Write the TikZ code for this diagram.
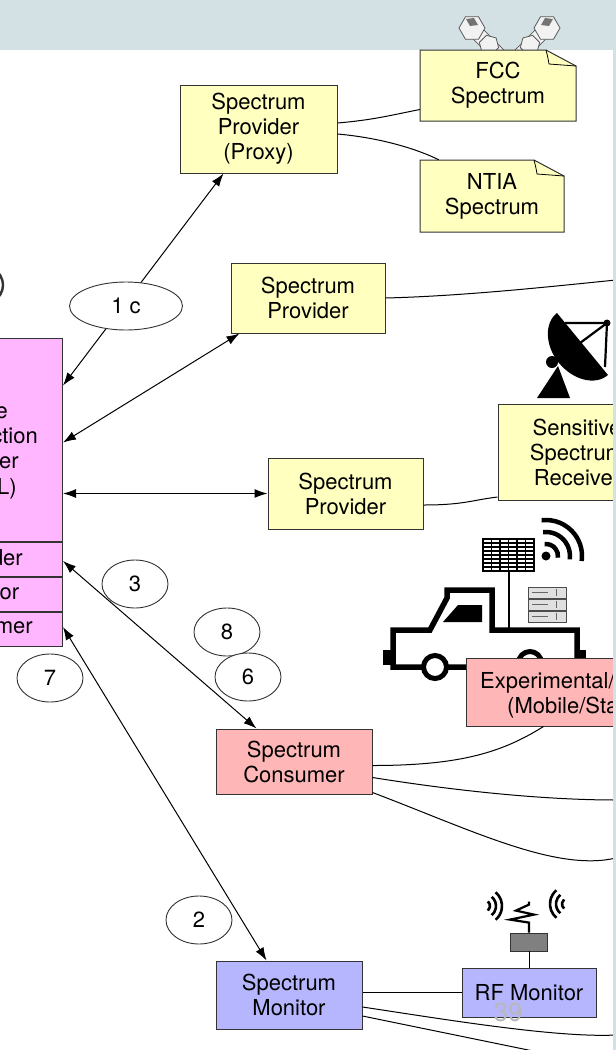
\documentclass[tikz,border=0pt]{standalone}
\usepackage{fontspec}
\setmainfont{TeX Gyre Heros}
\usetikzlibrary{arrows.meta,calc,shapes.geometric}

\definecolor{slideband}{RGB}{211,224,228}
\definecolor{provfill}{RGB}{255,255,192}
\definecolor{consfill}{RGB}{255,182,182}
\definecolor{monfill}{RGB}{182,182,255}
\definecolor{sasfill}{RGB}{255,182,255}

\tikzset{
  lbl/.style={font=\fontsize{22}{25}\selectfont, align=center, inner sep=0pt},
  unit/.style={lbl, draw=black!80, line width=1pt},
  prov/.style={unit, fill=provfill},
  cons/.style={unit, fill=consfill},
  mon/.style={unit, fill=monfill},
  sas/.style={unit, fill=sasfill},
  tag/.style={lbl, ellipse, draw=black!80, line width=0.9pt, fill=white, minimum width=66, minimum height=48},
  link/.style={line width=1pt},
  duplex/.style={link, {Latex[length=13pt,width=9pt]}-{Latex[length=13pt,width=9pt]}},
}

\begin{document}
\begin{tikzpicture}[x=1pt,y=-1pt]
  \useasboundingbox (0,0) rectangle (616,1050);
  \clip (0,0) rectangle (616,1050);
  \fill[slideband] (0,0) rectangle (616,50);

  % wrench icons behind the FCC note
  \foreach \wx/\ws in {472/1,547/-1} {
    \begin{scope}[shift={(\wx,28)}, xscale=\ws]
      \filldraw[fill=black!5, draw=black!65, line width=0.8pt, rotate=-45] (5,-7) rectangle (40,7);
      \filldraw[fill=black!5, draw=black!65, line width=0.8pt] (17,17) +(15:10) -- +(75:10) -- +(135:10) -- +(195:10) -- +(255:10) -- +(315:10) -- cycle;
      \filldraw[fill=black!5, draw=black!65, line width=0.8pt] (0:13) -- (60:13) -- (120:13) -- (180:13) -- (240:13) -- (300:13) -- cycle;
      \fill[black!55] (-6,-9) -- (2,-10) -- (6,-3) -- (-2,-2) -- cycle;
    \end{scope}
  }

  % regulator notes with folded corner
  \foreach \nx/\ny/\nw/\nh in {420/50/156/71, 420/160/144/72} {
    \filldraw[fill=provfill, draw=black!80, line width=1pt] (\nx,\ny) -- ++(\nw-30,0) -- ++(30,16) -- ++(0,\nh-16) -- ++(-\nw,0) -- cycle;
    \draw[line width=0.8pt] (\nx+\nw-30,\ny) .. controls (\nx+\nw-28,\ny+8) .. (\nx+\nw-27,\ny+14) -- (\nx+\nw,\ny+16);
  }
  \node[lbl, minimum width=156, minimum height=71] (fcc) at (498,85.5) {FCC\\Spectrum};
  \node[lbl, minimum width=144, minimum height=72] (ntia) at (492,196) {NTIA\\Spectrum};

  % satellite dish
  \fill (557,313) .. controls (544,323) and (545,346) .. (559,363) .. controls (573,380) and (595,386) .. (608,375) -- cycle;
  \draw[line width=2.2pt] (565,323) -- (607,323) -- (605,367);
  \draw[line width=2.2pt] (580,343) -- (607,323);
  \fill (607,323) circle (3.5);
  \fill (552,362) circle (6);
  \fill (558,366) -- (570,398) -- (537,398) -- cycle;

  % truck with panel, servers and wifi
  \draw[line width=5.5pt] (393,667) -- (393,630) -- (430,630) -- (447,598) -- (447,590) -- (492,590) -- (492,630) -- (577,630) -- (577,667) -- cycle;
  \fill (443,622) -- (458,605) -- (482,605) -- (482,622) -- cycle;
  \fill (383,650) rectangle (393,665);
  \fill (577,650) rectangle (586,663);
  \foreach \wx/\wy in {435/667,530/663} {
    \filldraw[fill=white, line width=5pt] (\wx,\wy) circle (11.5);
  }
  \draw[line width=2.5pt] (509,571) -- (509,630);
  \filldraw[fill=white, line width=1.2pt] (483,539) rectangle (534,571);
  \foreach \gx in {491.5,500,508.5,517,525.5} { \draw[line width=1.2pt] (\gx,539) -- (\gx,571); }
  \foreach \gy in {543,547,...,567} { \draw[line width=1.2pt] (483,\gy) -- (534,\gy); }
  \foreach \sy in {587,599,611} {
    \filldraw[fill=black!12, draw=black!70, line width=0.8pt] (528,\sy) rectangle (566,\sy+11);
    \draw[black!60, line width=0.8pt] (532,\sy+5.5) -- (548,\sy+5.5);
    \draw[black!60, line width=0.8pt] (556,\sy+2) -- (556,\sy+9);
  }
  \fill (546,556) circle (4.5);
  \foreach \r in {12,24,36} {
    \draw[line width=4.5pt] (546,556) ++(-97:\r) arc[start angle=-97, end angle=8, radius=\r];
  }

  % units
  \node[sas, minimum width=160, minimum height=203] (sas) at (-17.5,439.5) {};
  \node[sas, minimum width=160, minimum height=34, anchor=north] (sasprov) at (sas.south) {};
  \node[sas, minimum width=160, minimum height=34, anchor=north] (sasmon) at (sasprov.south) {};
  \node[sas, minimum width=160, minimum height=34, anchor=north] (sascons) at (sasmon.south) {};
  \node[lbl, anchor=base east] (sasA) at (8,418) {e};
  \node[lbl, anchor=base east] (sasB) at (38,443) {ction};
  \node[lbl, anchor=base east] (sasC) at (19,468) {er};
  \node[lbl, anchor=base east] (sasD) at (17,494) {L)};
  \node[lbl, anchor=base east] (sasE) at (23,565) {der};
  \node[lbl, anchor=base east] (sasF) at (19.5,599) {or};
  \node[lbl, anchor=base east] (sasG) at (33,633) {mer};

  \node[prov, minimum width=157, minimum height=88] (proxy) at (258.5,129) {Spectrum\\Provider\\(Proxy)};
  \node[prov, minimum width=154, minimum height=70] (provA) at (308,298) {Spectrum\\Provider};
  \node[prov, minimum width=155, minimum height=71] (provB) at (345.5,493.5) {Spectrum\\Provider};
  \node[prov, minimum width=158, minimum height=96] (receiver) at (577,452) {Sensitive\\Spectrum\\Receiver};

  \node[cons, minimum width=266, minimum height=68] (expt) at (599,692) {};
  \node[lbl, anchor=base west] (exptA) at (480,688) {Experimental/};
  \node[lbl, anchor=base west] (exptB) at (507,713) {(Mobile/Sta};
  \node[cons, minimum width=156, minimum height=65] (consumer) at (294,761.5) {Spectrum\\Consumer};

  \node[mon, minimum width=146, minimum height=68] (monitor) at (289,995) {Spectrum\\Monitor};
  \node[mon, minimum width=134, minimum height=49] (rfmon) at (529,992.5) {RF Monitor};

  % RF antenna
  \node[draw=black!80, fill=black!50, line width=0.8pt, minimum width=37, minimum height=18, inner sep=0pt] (rfbox) at (529,942) {};
  \draw[link] (rfbox.south) -- (rfmon.north);
  \draw[line width=2.2pt] (rfbox.north) -- ++(0,-10) -- ++(-19,-3) -- ++(24,-5) -- ++(-18,-4) -- ++(13,-6) -- ++(0,-3);
  \foreach \r in {6,12,18} {
    \draw[line width=2.6pt] (484,906) ++(-50:\r) arc[start angle=-50, end angle=50, radius=\r];
    \draw[line width=2.6pt] (568,904) ++(130:\r) arc[start angle=130, end angle=230, radius=\r];
  }

  % free ends leaving the slide
  \coordinate (offA) at (616,280);
  \coordinate (offC2) at (616,800);
  \coordinate (offC3) at (616,858);
  \coordinate (offM2) at (616,1035);
  \coordinate (offM3) at (616,1068);

  % message flows
  \draw[duplex] ($(sas.north east)+(0,48)$) -- ($(proxy.south west)+(44,0)$);
  \draw[duplex] ($(sas.north east)+(0,105)$) -- ($(provA.south west)+(9,0)$);
  \draw[duplex] (sas.east |- provB.west) -- (provB.west);
  \draw[duplex] ($(sasprov.east)+(0,2)$) -- ($(consumer.north west)+(41,0)$);
  \draw[duplex] ($(sascons.east)+(0,-2)$) -- ($(monitor.north west)+(51,0)$);

  % plain links
  \draw[link] ($(proxy.east)+(0,-6)$) .. controls +(35,-3) and +(-30,6) .. ($(fcc.west)+(0,24)$);
  \draw[link] ($(proxy.east)+(0,5)$) .. controls +(45,4) and +(-20,-10) .. ($(ntia.north west)+(19,0)$);
  \draw[link] (provA.east) .. controls +(80,-2) and +(-60,6) .. (offA);
  \draw[link] ($(provB.east)+(0,11.5)$) .. controls +(40,0) and +(-25,3) .. ($(receiver.west)+(0,45)$);
  \draw[link] ($(consumer.east)+(0,4)$) .. controls +(90,0) and +(-40,25) .. ($(expt.south west)+(78,0)$);
  \draw[link] ($(consumer.east)+(0,16)$) .. controls +(100,16) and +(-60,0) .. (offC2);
  \draw[link] ($(consumer.east)+(0,31)$) .. controls +(100,38) and +(-60,14) .. (offC3);
  \draw[link] (monitor.east |- rfmon.west) -- (rfmon.west);
  \draw[link] ($(monitor.east)+(0,12)$) .. controls +(80,12) and +(-60,3) .. (offM2);
  \draw[link] ($(monitor.east)+(0,21)$) -- (offM3);

  % step labels
  \node[tag, line width=2.4pt] (t1a) at (-30,285) {};
  \node[tag, minimum width=113] (t1c) at (126,306) {1 c};
  \node[tag] (t3) at (135,584) {3};
  \node[tag] (t8) at (227,632) {8};
  \node[tag] (t6) at (248,677) {6};
  \node[tag] (t7) at (50,678) {7};
  \node[tag] (t2) at (199,920) {2};

  \node[font=\fontsize{26}{26}\selectfont, text=black!28, inner sep=0pt] (pagenum) at (508,1012) {39};

  \fill[slideband] (613,50) rectangle (616,1050);
\end{tikzpicture}
\end{document}
